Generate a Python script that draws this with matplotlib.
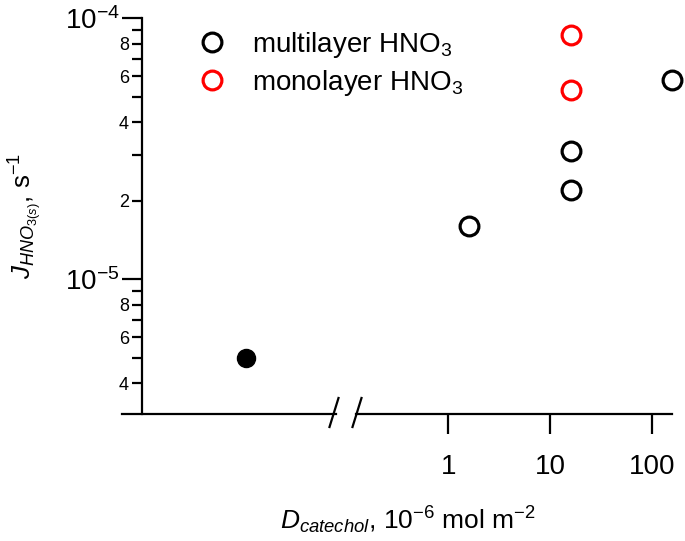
import numpy as np
import matplotlib
matplotlib.use('Agg')
import matplotlib.pyplot as plt
from matplotlib.ticker import LogLocator, FuncFormatter, FixedLocator, NullLocator
from matplotlib.lines import Line2D

# 数据
multi_D = [1.6, 16, 16, 160]
multi_J = [1.6e-5, 2.2e-5, 3.1e-5, 5.8e-5]
mono_D = [16, 16]
mono_J = [8.6e-5, 5.3e-5]
bare_J = [5.0e-6]          # D = 0, 画在断轴左边
x_ticks = [1, 10, 100]
x_ticklabels = ['1', '10', '100']
y_minor_shown = [2, 4, 6, 8]

plt.rcParams['font.family'] = ['Liberation Sans', 'DejaVu Sans']
plt.rcParams['mathtext.fontset'] = 'custom'
plt.rcParams['mathtext.rm'] = 'Liberation Sans'
plt.rcParams['mathtext.it'] = 'Liberation Sans:italic'
plt.rcParams['mathtext.bf'] = 'Liberation Sans:bold'

W, H = 685, 541
fig = plt.figure(figsize=(W / 100, H / 100), dpi=100)

def fx(px):
    return px / W

def fy(py):
    return 1 - py / H

y_top, y_bot = 18.3, 414.3
bottom = fy(y_bot)
height = (y_bot - y_top) / H

# 左半部分 (D = 0)
ax0 = fig.add_axes([fx(121.7), bottom, fx(336) - fx(121.7), height])
# 右半部分 (对数 x 轴)
ax1 = fig.add_axes([fx(356), bottom, fx(671.7) - fx(356), height])

for ax in (ax0, ax1):
    ax.set_yscale('log')
    ax.set_ylim(3.04e-6, 1e-4)
    ax.spines['top'].set_visible(False)
    ax.spines['right'].set_visible(False)
    for s in ax.spines.values():
        s.set_linewidth(1.6)
    ax.patch.set_visible(False)

# 左轴
ax0.spines['left'].set_position(('axes', (142.3 - 121.7) / (336 - 121.7)))
ax0.set_xlim(-0.578, 0.422)
ax0.set_xticks([])
ax0.yaxis.set_major_locator(FixedLocator([1e-5, 1e-4]))
ax0.yaxis.set_major_formatter(FuncFormatter(
    lambda v, p: r'$10^{%d}$' % int(round(np.log10(v)))))
ax0.yaxis.set_minor_locator(LogLocator(base=10, subs=np.arange(2, 10), numticks=20))

def minor_fmt(v, p):
    m = v / 10 ** np.floor(np.log10(v) + 1e-9)
    m = int(round(m))
    return str(m) if m in y_minor_shown else ''

ax0.yaxis.set_minor_formatter(FuncFormatter(minor_fmt))
ax0.tick_params(axis='y', which='major', labelsize=20, length=14.4, width=1.6, pad=2)
ax0.tick_params(axis='y', which='minor', labelsize=13, length=7.2, width=1.6, pad=2.5)

ax0.plot([0], bare_J, 'o', color='black', ms=13, clip_on=False)

# 右轴
ax1.spines['left'].set_visible(False)
ax1.set_xscale('log')
ax1.set_xlim(0.1237, 157.3)
ax1.xaxis.set_major_locator(FixedLocator(x_ticks))
ax1.set_xticklabels(x_ticklabels)
ax1.xaxis.set_minor_locator(NullLocator())
ax1.tick_params(axis='x', which='major', labelsize=20, length=14.4, width=1.6, pad=14)
ax1.tick_params(axis='y', which='both', left=False, labelleft=False)

h_multi, = ax1.plot(multi_D, multi_J, 'o', mfc='none', mec='black', ms=13.5, mew=2.3,
                    clip_on=False, label='multilayer HNO$_3$')
h_mono, = ax1.plot(mono_D, mono_J, 'o', mfc='none', mec='#ff0000', ms=13.5, mew=2.3,
                   clip_on=False, label='monolayer HNO$_3$')

fig.legend(handles=[h_multi, h_mono], loc='upper left',
           bbox_to_anchor=(fx(197.8), fy(29.5)), frameon=False, fontsize=20,
           handlelength=1.0, handletextpad=0.94, borderpad=0, borderaxespad=0,
           labelspacing=0.29)

# 断轴标记
for xc in (334, 357):
    fig.add_artist(Line2D([fx(xc - 4.5), fx(xc + 4.5)], [fy(427), fy(398)],
                          transform=fig.transFigure, color='black', lw=1.6))

fig.text(fx(25), fy(216), r'$J_{HNO_{3(s)}}$, s$^{-1}$', rotation=90,
         ha='center', va='center', fontsize=18.7)
fig.text(fx(408), fy(520), r'$D_{catechol}$, 10$^{-6}$ mol m$^{-2}$',
         ha='center', va='center', fontsize=19)

fig.savefig('out.png', dpi=100)
plt.close(fig)
